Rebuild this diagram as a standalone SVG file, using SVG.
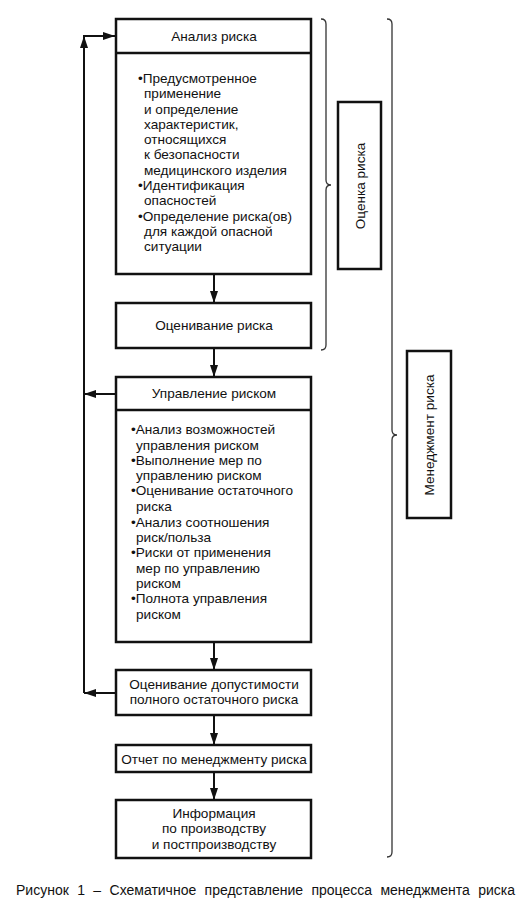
<svg xmlns="http://www.w3.org/2000/svg" width="527" height="922" viewBox="0 0 527 922">
<style>
.box{fill:#fff;stroke:#111;stroke-width:2.5}
.div{stroke:#111;stroke-width:2.5}
.t{font-family:"Liberation Sans",Arial,sans-serif;font-size:13.6px;fill:#111}
.c{text-anchor:middle}
.cap{font-family:"Liberation Sans",Arial,sans-serif;font-size:14px;fill:#111;word-spacing:4.5px}
.con{stroke:#111;stroke-width:2;fill:none}
.brace{stroke:#333;stroke-width:1.3;fill:none}
</style>
<defs>
<marker id="ah" viewBox="0 0 12 8" refX="12" refY="4" markerWidth="12" markerHeight="8" markerUnits="userSpaceOnUse" orient="auto">
<path d="M0,0 L12,4 L0,8 Z" fill="#111"/>
</marker>
</defs>
<g id="connectors">
<line class="con" x1="214" y1="274" x2="214" y2="303" marker-end="url(#ah)"/>
<line class="con" x1="214" y1="348" x2="214" y2="377" marker-end="url(#ah)"/>
<line class="con" x1="214" y1="642" x2="214" y2="670" marker-end="url(#ah)"/>
<line class="con" x1="214" y1="715" x2="214" y2="745" marker-end="url(#ah)"/>
<line class="con" x1="214" y1="772" x2="214" y2="800" marker-end="url(#ah)"/>
<line class="con" x1="115" y1="394" x2="84" y2="394" marker-end="url(#ah)"/>
<line class="con" x1="115" y1="693" x2="84" y2="693" marker-end="url(#ah)"/>
<line class="con" x1="84" y1="693" x2="84" y2="36" marker-end="url(#ah)"/>
<line class="con" x1="83" y1="36" x2="115" y2="36" marker-end="url(#ah)"/>
</g>
<g id="analysis">
<rect class="box" x="116" y="19" width="195" height="255"/>
<line class="div" x1="116" y1="53" x2="311" y2="53"/>
<text class="t c" x="214" y="41">Анализ риска</text>
<text class="t" x="138" y="83">•Предусмотренное</text>
<text class="t" x="144" y="98">применение</text>
<text class="t" x="144" y="113.5">и определение</text>
<text class="t" x="144" y="128.5">характеристик,</text>
<text class="t" x="144" y="144">относящихся</text>
<text class="t" x="144" y="159">к безопасности</text>
<text class="t" x="144" y="174.5">медицинского изделия</text>
<text class="t" x="138" y="190">•Идентификация</text>
<text class="t" x="144" y="205">опасностей</text>
<text class="t" x="138" y="220.5">•Определение риска(ов)</text>
<text class="t" x="144" y="236">для каждой опасной</text>
<text class="t" x="144" y="251">ситуации</text>
</g>
<g id="evaluation">
<rect class="box" x="116" y="303" width="195" height="45"/>
<text class="t c" x="214" y="329.5">Оценивание риска</text>
</g>
<g id="control">
<rect class="box" x="116" y="377" width="195" height="265"/>
<line class="div" x1="116" y1="410" x2="311" y2="410"/>
<text class="t c" x="214" y="397.5">Управление риском</text>
<text class="t" x="131" y="434">•Анализ возможностей</text>
<text class="t" x="136" y="449.5">управления риском</text>
<text class="t" x="131" y="464.5">•Выполнение мер по</text>
<text class="t" x="136" y="479.5">управлению риском</text>
<text class="t" x="131" y="495">•Оценивание остаточного</text>
<text class="t" x="136" y="510.5">риска</text>
<text class="t" x="131" y="526.5">•Анализ соотношения</text>
<text class="t" x="136" y="541.5">риск/польза</text>
<text class="t" x="131" y="557">•Риски от применения</text>
<text class="t" x="136" y="572.5">мер по управлению</text>
<text class="t" x="136" y="587.5">риском</text>
<text class="t" x="131" y="603">•Полнота управления</text>
<text class="t" x="136" y="618.5">риском</text>
</g>
<g id="acceptability">
<rect class="box" x="116" y="670" width="195" height="45"/>
<text class="t c" x="214" y="688.5">Оценивание допустимости</text>
<text class="t c" x="214" y="703.5">полного остаточного риска</text>
</g>
<g id="report">
<rect class="box" x="116" y="745" width="195" height="27"/>
<text class="t c" x="214" y="763.5">Отчет по менеджменту риска</text>
</g>
<g id="info">
<rect class="box" x="116" y="800" width="195" height="58"/>
<text class="t c" x="214" y="817.5">Информация</text>
<text class="t c" x="214" y="833">по производству</text>
<text class="t c" x="214" y="848.5">и постпроизводству</text>
</g>
<g id="brace-assessment">
<path class="brace" d="M321,19 Q326,19 326,24 L326,180 Q326,185 331,185 Q326,185 326,190 L326,345 Q326,350 321,350"/>
</g>
<g id="assessment">
<rect class="box" x="338" y="102" width="43" height="167"/>
<text class="t c" transform="translate(364.5,186) rotate(-90)">Оценка риска</text>
</g>
<g id="brace-management">
<path class="brace" d="M387,19 Q392,19 392,24 L392,430 Q392,435 397,435 Q392,435 392,440 L392,852 Q392,857 387,857"/>
</g>
<g id="management">
<rect class="box" x="407" y="351" width="44" height="167"/>
<text class="t c" transform="translate(433.5,435) rotate(-90)">Менеджмент риска</text>
</g>
<text class="cap" x="16" y="895">Рисунок 1 – Схематичное представление процесса менеджмента риска</text>
</svg>
